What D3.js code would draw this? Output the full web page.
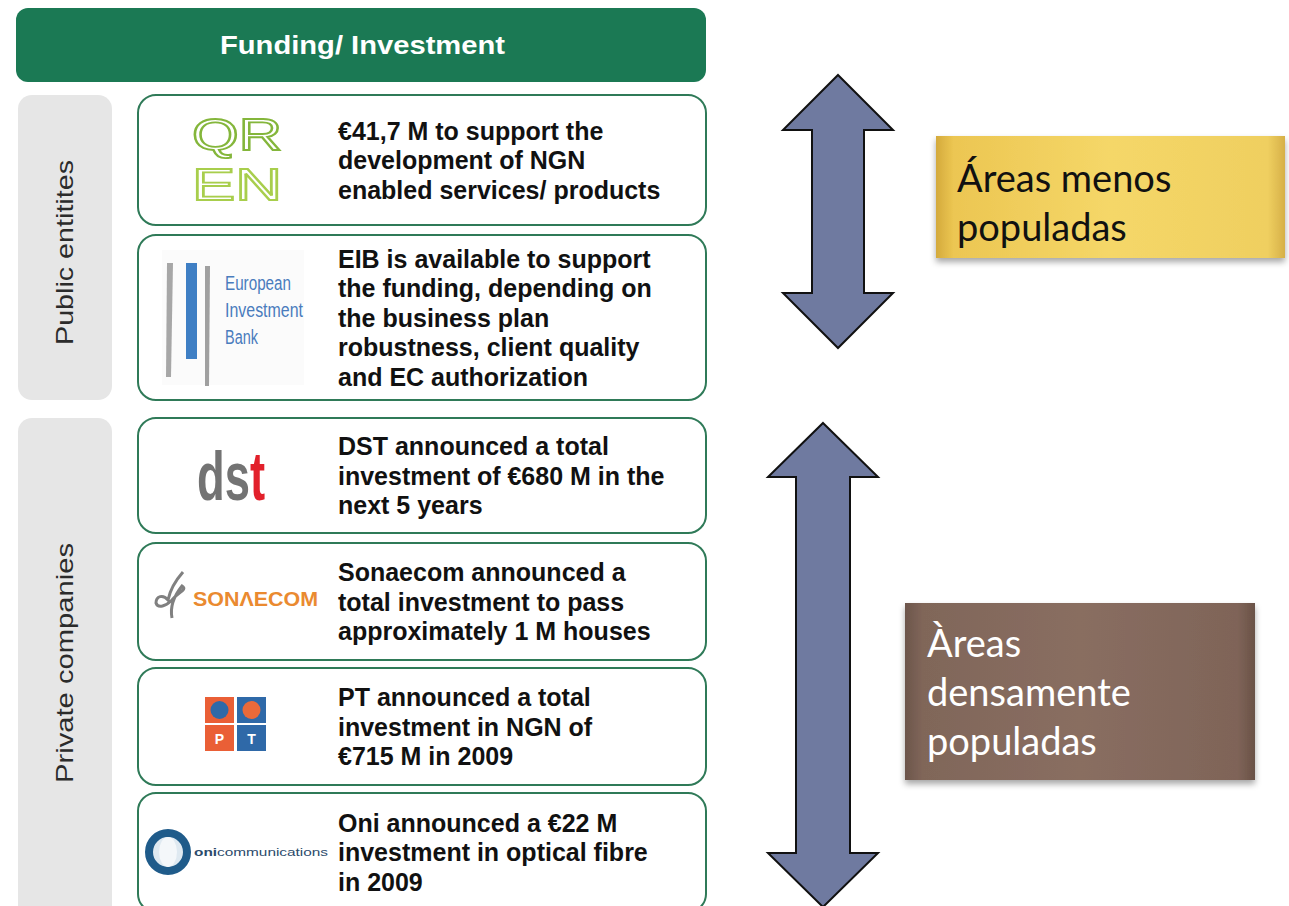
<html>
<head>
<meta charset="utf-8">
<title>Funding / Investment</title>
<style>
  body { margin: 0; background: #fff; }
  text { font-family: "Liberation Sans", Arial, sans-serif; }
</style>
</head>
<body>
<script src="https://cdn.jsdelivr.net/npm/d3@7"></script>
<script>

// ---- data ----
var headerTitle = 'Funding/ Investment';

var groupNames = ['Public entitites', 'Private companies'];

var cardGroups = ['Public entitites', 'Public entitites',
                  'Private companies', 'Private companies', 'Private companies', 'Private companies'];

var cardLogos = ['qren', 'eib', 'dst', 'sonaecom', 'pt', 'oni'];

var cardTexts = [
  ['€41,7 M to support the', 'development of NGN', 'enabled services/ products'],
  ['EIB is available to support', 'the funding, depending on', 'the business plan',
   'robustness, client quality', 'and EC authorization'],
  ['DST announced a total', 'investment of €680 M in the', 'next 5 years'],
  ['Sonaecom announced a', 'total investment to pass', 'approximately 1 M houses'],
  ['PT announced a total', 'investment in NGN of', '€715 M in 2009'],
  ['Oni announced a €22 M', 'investment in optical fibre', 'in 2009']
];

var calloutTexts = [
  ['Áreas menos', 'populadas'],
  ['Àreas', 'densamente', 'populadas']
];

// ---- layout (not data) ----
var w = 1289, h = 906;
var cardEdges = [[95, 225], [235, 400], [418, 533], [543, 660], [668, 785], [793, 912]];
var groupEdges = [[95, 400], [418, 920]];
var lineH = 29.5;

var svg = d3.select('body').append('svg')
    .attr('width', w)
    .attr('height', h)
    .style('display', 'block');

var defs = svg.append('defs');

// gradients + shadow for the callouts
var gold = defs.append('linearGradient').attr('id', 'gold');
[[0, '#d4aa3c'], [0.05, '#ecc652'], [0.5, '#f5d768'], [0.95, '#efcf60'], [1, '#d6b048']]
  .forEach(function(s){ gold.append('stop').attr('offset', s[0]).attr('stop-color', s[1]); });

var brown = defs.append('linearGradient').attr('id', 'brown');
[[0, '#6c554b'], [0.05, '#806659'], [0.5, '#896e61'], [0.95, '#7f6458'], [1, '#6a5247']]
  .forEach(function(s){ brown.append('stop').attr('offset', s[0]).attr('stop-color', s[1]); });

// dst logo: grey "ds", red "t" in one text
var dstFill = defs.append('linearGradient').attr('id', 'dstFill')
    .attr('gradientUnits', 'userSpaceOnUse')
    .attr('x1', 197).attr('x2', 266).attr('y1', 0).attr('y2', 0);
[[0, '#737373'], [0.735, '#737373'], [0.735, '#e2202b'], [1, '#e2202b']]
  .forEach(function(s){ dstFill.append('stop').attr('offset', s[0]).attr('stop-color', s[1]); });

var shadow = defs.append('filter').attr('id', 'shadow')
    .attr('x', '-10%').attr('y', '-10%').attr('width', '120%').attr('height', '130%');
shadow.append('feDropShadow').attr('dx', 0).attr('dy', 4).attr('stdDeviation', 3)
    .attr('flood-color', '#000').attr('flood-opacity', 0.35);

// ---- header ----
svg.append('rect')
    .attr('x', 16).attr('y', 8).attr('width', 690).attr('height', 74)
    .attr('rx', 12)
    .attr('fill', '#1b7954');

svg.append('text')
    .attr('x', 220).attr('y', 54)
    .attr('fill', '#fff')
    .attr('font-weight', 'bold')
    .attr('font-size', 26)
    .attr('textLength', 285)
    .attr('lengthAdjust', 'spacingAndGlyphs')
    .text(headerTitle);

// ---- group side bars ----
var groups = svg.selectAll('g.group')
    .data(groupNames)
    .enter().append('g')
    .attr('class', 'group');

groups.append('rect')
    .attr('x', 18)
    .attr('y', function(d, i){ return groupEdges[i][0]; })
    .attr('width', 94)
    .attr('height', function(d, i){ return groupEdges[i][1] - groupEdges[i][0]; })
    .attr('rx', 14)
    .attr('fill', '#e6e6e6');

var labelSpans = [[345, 185], [783, 240]];
groups.append('text')
    .attr('transform', function(d, i){ return 'translate(73,' + labelSpans[i][0] + ') rotate(-90)'; })
    .attr('font-size', 24)
    .attr('textLength', function(d, i){ return labelSpans[i][1]; })
    .attr('lengthAdjust', 'spacingAndGlyphs')
    .attr('fill', '#2b2b2b')
    .text(function(d){ return d; });

// ---- cards ----
var cards = svg.selectAll('g.card')
    .data(cardTexts)
    .enter().append('g')
    .attr('class', 'card');

cards.append('rect')
    .attr('x', 138)
    .attr('y', function(d, i){ return cardEdges[i][0]; })
    .attr('width', 568)
    .attr('height', function(d, i){ return cardEdges[i][1] - cardEdges[i][0]; })
    .attr('rx', 18)
    .attr('fill', '#fff')
    .attr('stroke', '#2f7a58')
    .attr('stroke-width', 2);

cards.append('text')
    .attr('font-size', 25)
    .attr('font-weight', 'bold')
    .attr('fill', '#111')
    .each(function(lines, i){
      var mid = (cardEdges[i][0] + Math.min(cardEdges[i][1], 906)) / 2;
      if (i == 5) mid = 852;
      var y0 = mid - (lines.length - 1) * lineH / 2 + 9;
      d3.select(this).selectAll('tspan')
        .data(lines)
        .enter().append('tspan')
        .attr('x', 338)
        .attr('y', function(d, j){ return y0 + j * lineH; })
        .text(function(d){ return d; });
    });

// ---- logos ----
cards.append('g')
    .attr('class', 'logo')
    .each(function(d, i){
      var g = d3.select(this);
      var kind = cardLogos[i];
      if (kind == 'qren') {
        var rows = [['QR', 150, '#84b63b'], ['EN', 200, '#a8ce4c']];
        g.selectAll('text').data(rows).enter().append('text')
          .attr('transform', function(r){ return 'translate(192,' + r[1] + ') scale(1,1.05)'; })
          .attr('font-size', 42)
          .attr('textLength', 90)
          .attr('lengthAdjust', 'spacingAndGlyphs')
          .attr('fill', 'none')
          .attr('stroke', function(r){ return r[2]; })
          .attr('stroke-width', 1.8)
          .text(function(r){ return r[0]; });
      }
      if (kind == 'eib') {
        g.append('rect').attr('x', 162).attr('y', 250).attr('width', 142).attr('height', 135).attr('fill', '#fbfbfb');
        g.append('path').attr('d', 'M167,263 L173,263 L171,377 L166,377 Z').attr('fill', '#a7a7a7');
        g.append('rect').attr('x', 186).attr('y', 263).attr('width', 11).attr('height', 96).attr('fill', '#3f7fc4');
        g.append('path').attr('d', 'M205,266 L210,266 L209,386 L205,386 Z').attr('fill', '#a0a0a0');
        var eibWords = [['European', 66], ['Investment', 78], ['Bank', 33]];
        g.selectAll('text').data(eibWords).enter().append('text')
          .attr('x', 225)
          .attr('y', function(t, k){ return 290 + k * 27; })
          .attr('font-size', 20)
          .attr('textLength', function(t){ return t[1]; })
          .attr('lengthAdjust', 'spacingAndGlyphs')
          .attr('fill', '#4a7cbd')
          .text(function(t){ return t[0]; });
      }
      if (kind == 'dst') {
        g.append('text')
          .attr('x', 197)
          .attr('y', 500)
          .attr('font-weight', 'bold')
          .attr('font-size', 68)
          .attr('textLength', 68)
          .attr('lengthAdjust', 'spacingAndGlyphs')
          .attr('fill', 'url(#dstFill)')
          .text('dst');
      }
      if (kind == 'sonaecom') {
        g.append('path')
          .attr('d', 'M183,572 C176,580 170,590 168,600 C163,594 156,596 156,603 C158,609 166,606 172,600 C178,592 188,590 182,586 C174,596 170,608 172,618')
          .attr('fill', 'none').attr('stroke', '#808080').attr('stroke-width', 3);
        g.append('text')
          .attr('x', 193).attr('y', 606)
          .attr('font-size', 20)
          .attr('font-weight', 'bold')
          .attr('textLength', 125)
          .attr('lengthAdjust', 'spacingAndGlyphs')
          .attr('fill', '#ea8a30')
          .text('SONΛECOM');
      }
      if (kind == 'pt') {
        var cells = [[205, 697, '#ea5f36', '#2f69a8', ''], [237, 697, '#2f69a8', '#ea6a3a', ''],
                     [205, 725, '#ea5f36', null, 'P'], [237, 725, '#2f69a8', null, 'T']];
        cells.forEach(function(c){
          g.append('rect').attr('x', c[0]).attr('y', c[1]).attr('width', 29).attr('height', 26).attr('fill', c[2]);
          if (c[3]) g.append('circle').attr('cx', c[0] + 14.5).attr('cy', c[1] + 13).attr('r', 9).attr('fill', c[3]);
          if (c[4]) g.append('text').attr('x', c[0] + 14.5).attr('y', c[1] + 19)
            .attr('text-anchor', 'middle').attr('font-size', 14).attr('font-weight', 'bold')
            .attr('fill', '#fff').text(c[4]);
        });
      }
      if (kind == 'oni') {
        g.append('circle').attr('cx', 168).attr('cy', 852).attr('r', 19)
          .attr('fill', '#dfe9f1').attr('stroke', '#1f5b8a').attr('stroke-width', 8);
        g.append('ellipse').attr('cx', 168).attr('cy', 852).attr('rx', 9).attr('ry', 15).attr('fill', '#f4f7fa');
        var t2 = g.append('text')
          .attr('x', 194).attr('y', 856)
          .attr('font-size', 11.5)
          .attr('textLength', 134)
          .attr('lengthAdjust', 'spacingAndGlyphs')
          .attr('fill', '#2b4a6b');
        t2.append('tspan').attr('font-weight', 'bold').text('oni');
        t2.append('tspan').text('communications');
      }
    });

// ---- double arrows ----
var arrowSpans = [[75, 348, 838, 55, 110, 52], [423, 907, 823, 54, 110, 54]];
var arrowPath = function(a){
  var top = a[0], bot = a[1], cx = a[2], head = a[3], hw = a[4] / 2, sw = a[5] / 2;
  return d3.line()([
    [cx, top], [cx + hw, top + head], [cx + sw, top + head],
    [cx + sw, bot - head], [cx + hw, bot - head], [cx, bot],
    [cx - hw, bot - head], [cx - sw, bot - head], [cx - sw, top + head],
    [cx - hw, top + head]
  ]) + 'Z';
};
svg.selectAll('path.arrow')
    .data(arrowSpans)
    .enter().append('path')
    .attr('class', 'arrow')
    .attr('d', arrowPath)
    .attr('fill', '#6f7aa0')
    .attr('stroke', '#111')
    .attr('stroke-width', 2)
    .attr('stroke-linejoin', 'miter');

// ---- callouts ----
var calloutBoxes = [[936, 136, 349, 122, 'url(#gold)', '#111', 957, 192],
                    [905, 603, 350, 177, 'url(#brown)', '#fff', 927, 657]];
var callouts = svg.selectAll('g.callout')
    .data(calloutTexts)
    .enter().append('g')
    .attr('class', 'callout');

callouts.append('rect')
    .attr('x', function(d, i){ return calloutBoxes[i][0]; })
    .attr('y', function(d, i){ return calloutBoxes[i][1]; })
    .attr('width', function(d, i){ return calloutBoxes[i][2]; })
    .attr('height', function(d, i){ return calloutBoxes[i][3]; })
    .attr('fill', function(d, i){ return calloutBoxes[i][4]; })
    .attr('filter', 'url(#shadow)');

callouts.append('text')
    .style('font-family', '"Lato", "Open Sans", sans-serif')
    .attr('font-size', 38)
    .attr('fill', function(d, i){ return calloutBoxes[i][5]; })
    .each(function(lines, i){
      d3.select(this).selectAll('tspan')
        .data(lines)
        .enter().append('tspan')
        .attr('x', calloutBoxes[i][6])
        .attr('y', function(d, j){ return calloutBoxes[i][7] + j * 49; })
        .text(function(d){ return d; });
    });

</script>
</body>
</html>
